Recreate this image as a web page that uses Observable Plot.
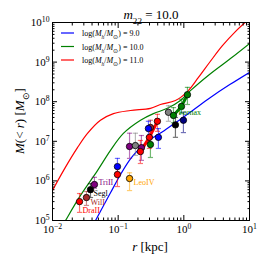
<!DOCTYPE html>
<html><head><meta charset="utf-8">
<script src="https://cdn.jsdelivr.net/npm/d3@7"></script>
<script src="https://cdn.jsdelivr.net/npm/@observablehq/plot@0.6"></script>
<style>body{margin:0;background:#fff}svg{display:block}</style>
</head><body><div id="chart"></div>
<script>
// ---- axis ticks ----
const xMajorTicks = [0.01, 0.1, 1, 10];
const xTickLabels = ["10^-2", "10^-1", "10^0", "10^1"];
const yMajorTicks = [1e5, 1e6, 1e7, 1e8, 1e9, 1e10];
const yTickLabels = ["10^5", "10^6", "10^7", "10^8", "10^9", "10^10"];
const minorMultipliers = [2, 3, 4, 5, 6, 7, 8, 9];

// ---- model curves: log(Mh/Msun) = 9, 10, 11 ----
const curveLabels = ["9.0", "10.0", "11.0"];
const blueR = [0.0355, 0.0452, 0.0764, 0.112, 0.158, 0.224, 0.316, 0.501, 0.794, 1.41, 2.51, 5.01, 10];
const blueM = [4.8e4, 1.0e5, 5.0e5, 1.58e6, 3.8e6, 7.2e6, 1.15e7, 1.86e7, 3.16e7, 6.3e7, 1.26e8, 2.7e8, 5.5e8];
const greenR = [0.0126, 0.0158, 0.0267, 0.0484, 0.0764, 0.120, 0.219, 0.344, 0.562, 0.887, 1.26, 2.54, 5.13, 10];
const greenM = [5.2e4, 1.0e5, 4.3e5, 1.82e6, 5.9e6, 1.58e7, 3.4e7, 5.0e7, 6.8e7, 1.07e8, 1.9e8, 5.1e8, 1.23e9, 2.95e9];
const redR = [0.01, 0.0147, 0.024, 0.0341, 0.0537, 0.0847, 0.154, 0.31, 0.44, 0.745, 1.135, 1.67, 2.54, 3.87, 6.1, 10];
const redM = [5.75e5, 1.82e6, 6.9e6, 1.58e7, 3.4e7, 5.0e7, 6.0e7, 6.8e7, 8.5e7, 1.07e8, 1.8e8, 4.1e8, 1.05e9, 2.6e9, 5.9e9, 1.26e10];

// ---- dwarf galaxy data points ----
const ptGroup = ["DraII", "WilI", "SegI", "TriII", "g5", "g6", "LeoIV", "g8", "g9", "g10", "gR", "gR", "gR", "g14", "g15", "g16", "g17", "g18", "g19", "g20", "Fornax", "Fornax", "Fornax"];
const ptColor = ["red", "brown", "black", "purple", "blue", "red", "orange", "purple", "gray", "purple", "red", "red", "red", "green", "brown", "blue", "blue", "gray", "black", "navy", "green", "green", "green"];
const ptR = [0.0258, 0.0329, 0.0379, 0.0435, 0.0975, 0.0975, 0.149, 0.149, 0.183, 0.226, 0.218, 0.299, 0.396, 0.31, 0.31, 0.41, 0.289, 0.583, 0.745, 0.986, 0.695, 0.92, 1.135];
const ptM = [3.0e5, 3.8e5, 6.0e5, 8.1e5, 2.3e6, 1.45e6, 1.15e6, 7.4e6, 7.8e6, 6.9e6, 5.5e6, 1.26e7, 3.2e7, 8.3e6, 2.24e7, 1.26e7, 2.1e7, 5.4e7, 2.6e7, 3.4e7, 4.5e7, 7.6e7, 1.5e8];
const ptLo = [1.6e5, 2.4e5, 3.8e5, 6.5e5, 1.38e6, 7.2e5, 5.7e5, 3.7e6, 4.4e6, 3.3e6, 2.75e6, 6.6e6, 1.78e7, 3.9e6, 1.32e7, 6.6e6, 1.32e7, 3.2e7, 1.26e7, 1.66e7, 2.95e7, 5.0e7, 8.5e7];
const ptHi = [4.8e5, 5.4e5, 8.5e5, 1.23e6, 3.7e6, 2.4e6, 1.6e6, 1.6e7, 1.6e7, 1.4e7, 1.05e7, 2.1e7, 4.8e7, 1.32e7, 3.4e7, 2.1e7, 3.2e7, 7.9e7, 4.0e7, 5.4e7, 7.1e7, 1.15e8, 2.3e8];

// ---- labelled galaxies ----
const labelText = ["TriII", "Segl", "WilI", "DraII", "LeoIV", "Fornax"];
const labelIndex = [3, 2, 1, 0, 6, 20];

// ---- styles (offsets in px) ----
const labelStyle = [
  {dx: 4, dy: -2}, {dx: 3, dy: 4}, {dx: 4, dy: 5}, {dx: 3, dy: 9}, {dx: 4, dy: 4}, {dx: 5, dy: -3}
];
const curveColors = ["#0000ff", "#008000", "#ff0000"];
const FONT = "Liberation Serif";

// ---- build tables ----
const curves = [
  ...blueR.map((r, i) => ({r, M: blueM[i], s: "9.0"})),
  ...greenR.map((r, i) => ({r, M: greenM[i], s: "10.0"})),
  ...redR.map((r, i) => ({r, M: redM[i], s: "11.0"}))
];
const curveColorOf = {"9.0": curveColors[0], "10.0": curveColors[1], "11.0": curveColors[2]};
const pts = ptR.map((r, i) => ({group: ptGroup[i], color: ptColor[i], r, M: ptM[i], lo: ptLo[i], hi: ptHi[i]}));
const xMinor = xMajorTicks.slice(0, -1).flatMap(d => minorMultipliers.map(k => k * d));
const yMinor = yMajorTicks.slice(0, -1).flatMap(d => minorMultipliers.map(k => k * d));
const xLab = new Map(xMajorTicks.map((d, i) => [d, xTickLabels[i]]));
const yLab = new Map(yMajorTicks.map((d, i) => [d, yTickLabels[i]]));

const capSymbol = {draw(ctx, size) { const w = Math.sqrt(size / Math.PI); ctx.moveTo(-w, 0); ctx.lineTo(w, 0); }};

const MAJ = 5, MIN = 2.5;
const tickAxes = [];
for (const [ticks, len] of [[xMajorTicks, MAJ], [xMinor, MIN]]) {
  tickAxes.push(Plot.axisX({anchor: "bottom", ticks, tickSize: len, dy: -len, fill: "none", label: null, stroke: "black"}));
  tickAxes.push(Plot.axisX({anchor: "top", ticks, tickSize: len, dy: len, fill: "none", label: null, stroke: "black"}));
}
for (const [ticks, len] of [[yMajorTicks, MAJ], [yMinor, MIN]]) {
  tickAxes.push(Plot.axisY({anchor: "left", ticks, tickSize: len, dx: len, fill: "none", label: null, stroke: "black"}));
  tickAxes.push(Plot.axisY({anchor: "right", ticks, tickSize: len, dx: -len, fill: "none", label: null, stroke: "black"}));
}

const chart = Plot.plot({
  width: 266, height: 266,
  marginLeft: 52, marginRight: 17, marginTop: 22, marginBottom: 46,
  style: {fontFamily: FONT, fontSize: "11px", color: "black", background: "white"},
  x: {type: "log", domain: [0.01, 10]},
  y: {type: "log", domain: [1e5, 1e10]},
  color: {type: "identity"},
  marks: [
    Plot.line(curves, {x: "r", y: "M", z: "s", stroke: d => curveColorOf[d.s], strokeWidth: 1.2, curve: "catmull-rom", clip: true}),
    Plot.ruleX(pts, {x: "r", y1: "lo", y2: "hi", stroke: "color", strokeOpacity: 0.55, strokeWidth: 1.2}),
    Plot.dot(pts, {x: "r", y: "hi", symbol: capSymbol, r: 2.6, stroke: "color", strokeOpacity: 0.55, strokeWidth: 1.2, fill: "none"}),
    Plot.dot(pts, {x: "r", y: "lo", symbol: capSymbol, r: 2.6, stroke: "color", strokeOpacity: 0.55, strokeWidth: 1.2, fill: "none"}),
    Plot.line(pts.filter(d => d.group === "gR" || d.group === "Fornax"), {x: "r", y: "M", z: "group", stroke: "color", strokeWidth: 3}),
    Plot.dot(pts, {x: "r", y: "M", fill: "color", stroke: "black", strokeWidth: 0.8, r: 3.2}),
    ...labelText.map((t, i) => Plot.text([pts[labelIndex[i]]], {x: "r", y: "M", text: () => t, fill: "color", textAnchor: "start", fontSize: 8, dx: labelStyle[i].dx, dy: labelStyle[i].dy})),
    ...tickAxes,
    Plot.axisX({anchor: "bottom", ticks: xMajorTicks, tickSize: 0, tickPadding: 5, tickFormat: d => xLab.get(d), label: null, fill: "black"}),
    Plot.axisY({anchor: "left", ticks: yMajorTicks, tickSize: 0, tickPadding: 3, tickFormat: d => yLab.get(d), label: null, fill: "black"}),
    Plot.frame({stroke: "black", strokeWidth: 1})
  ]
});
document.getElementById("chart").appendChild(chart);

// ---- rich text helpers ----
function setRich(sel, parts) {
  sel.text(null);
  for (const [s, st] of parts) {
    const ts = sel.append("tspan").text(s);
    if (st.includes("i")) ts.attr("font-style", "italic");
    if (st.includes("sub")) ts.attr("baseline-shift", "sub").attr("font-size", "70%");
    if (st.includes("sup")) ts.attr("baseline-shift", "super").attr("font-size", "70%");
  }
}
const svg = d3.select(chart);
svg.selectAll('g[aria-label="x-axis tick label"] text, g[aria-label="y-axis tick label"] text').each(function() {
  const s = d3.select(this).text();
  if (s.includes("^")) { const [b, e] = s.split("^"); setRich(d3.select(this), [[b, ""], [e.replace("-", "\u2212"), "sup"]]); }
});

const addText = (x, y, parts, opts = {}) => {
  const t = svg.append("text").attr("x", x).attr("y", y).attr("font-family", FONT)
    .attr("font-size", opts.size || 12).attr("text-anchor", opts.anchor || "middle").attr("fill", opts.fill || "black");
  if (opts.rotate) t.attr("transform", `rotate(-90,${x},${y})`);
  setRich(t, parts);
  return t;
};
addText(151, 19, [["m", "i"], ["22", "sub"], [" = 10.0", ""]], {size: 13});
addText(150, 251, [["r", "i"], [" [kpc]", ""]], {size: 13});
addText(24, 121, [["M", "i"], ["(< ", ""], ["r", "i"], [") [", ""], ["M", "i"], ["\u2299", "sub"], ["]", ""]], {size: 13, rotate: true});

curveLabels.forEach((lab, i) => {
  const y = 33 + 13.5 * i;
  svg.append("line").attr("x1", 61).attr("x2", 74).attr("y1", y).attr("y2", y).attr("stroke", curveColors[i]).attr("stroke-width", 1.2);
  addText(82, y + 3, [["log(", ""], ["M", "i"], ["h", "isub"], ["/", ""], ["M", "i"], ["\u2299", "sub"], [") = " + lab, ""]], {size: 8, anchor: "start"});
});
</script></body></html>
